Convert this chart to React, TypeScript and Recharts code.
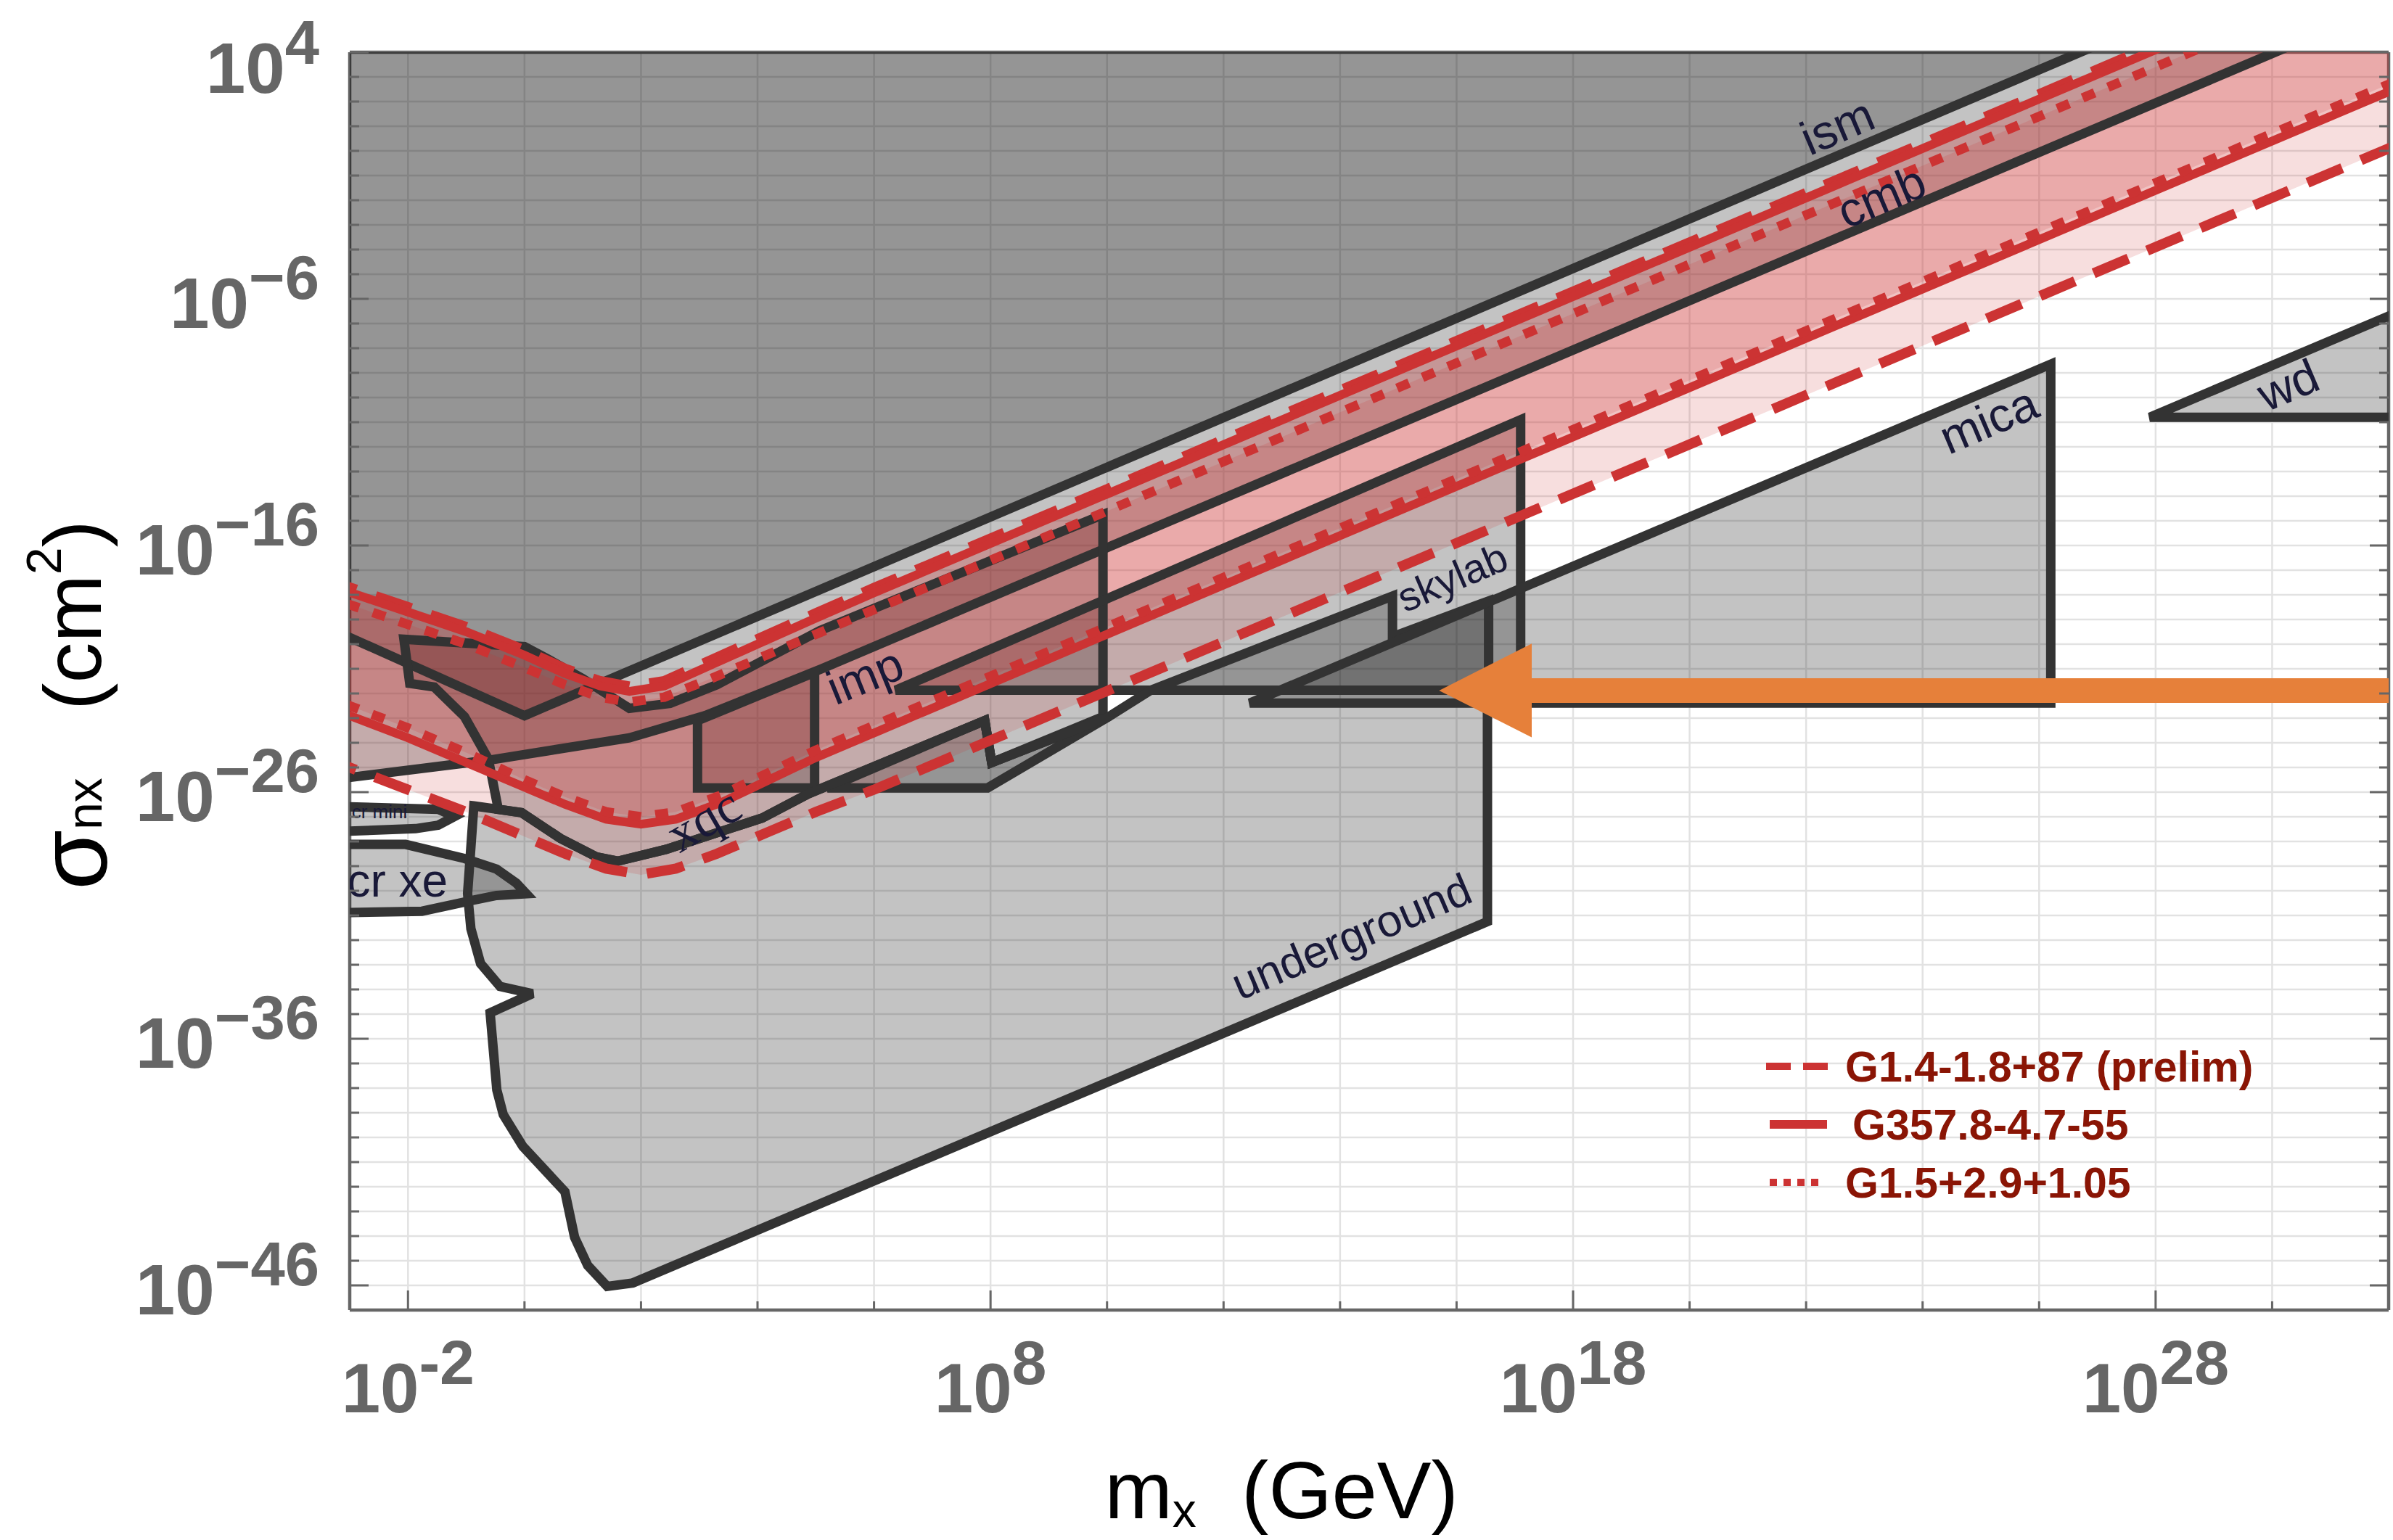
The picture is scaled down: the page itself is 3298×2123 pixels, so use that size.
import React from 'react'
import {
  ComposedChart,
  Scatter,
  XAxis,
  YAxis,
  CartesianGrid,
  Legend,
  Label,
  Polygon,
  Curve,
} from 'recharts'

type Pt = [number, number]

// axes are log10(m / GeV) and log10(sigma / cm^2)
const X_DOMAIN: [number, number] = [-3, 32]
const Y_DOMAIN: [number, number] = [-47, 4]
const X_TICKS = [-2, 0, 2, 4, 6, 8, 10, 12, 14, 16, 18, 20, 22, 24, 26, 28, 30, 32]
const X_MAJOR = [-2, 8, 18, 28]
const Y_TICKS = [
  4, 3, 2, 1, 0, -1, -2, -3, -4, -5, -6, -7, -8, -9, -10, -11, -12, -13, -14, -15, -16, -17,
  -18, -19, -20, -21, -22, -23, -24, -25, -26, -27, -28, -29, -30, -31, -32, -33, -34, -35,
  -36, -37, -38, -39, -40, -41, -42, -43, -44, -45, -46,
]
const Y_MAJOR = [4, -6, -16, -26, -36, -46]

// excluded regions (log10 m, log10 sigma)
const ISM: Pt[] = [[-3.5, 5], [-3.5, -19.2], [0, -22.9], [27.7, 5]]
const CMB: Pt[] = [[-3.5, 5], [-3.5, -25.55], [-0.6, -24.7], [1.8, -23.8], [3.1, -22.9], [5.1, -21.0], [31.05, 5]]
const XQC: Pt[] = [
  [-2.07, -19.8], [0, -20.1], [0.4, -20.6], [1.0, -21.4], [1.8, -22.6], [2.5, -22.4], [3.3, -21.65],
  [5.07, -19.45], [9.93, -14.75], [9.93, -22.94], [8.02, -24.8], [7.9, -23.1], [4.87, -26.07],
  [4.08, -27.05], [2.43, -28.32], [1.6, -28.8], [1.24, -28.63], [0.62, -27.88], [-0.05, -26.83],
  [-0.45, -26.7], [-0.62, -24.66], [-1.03, -22.94], [-1.55, -21.74], [-1.97, -21.59],
]
const IMP_LEFT: Pt[] = [[2.97, -23.1], [4.98, -21.15], [4.98, -25.83], [2.97, -25.83]]
const IMP_LOW: Pt[] = [[5.2, -25.83], [7.95, -25.83], [10.03, -22.94], [8.02, -24.8], [7.9, -23.1]]
const IMP: Pt[] = [[6.37, -21.87], [17.1, -10.9], [17.1, -21.87]]
const SKYLAB: Pt[] = [[10.75, -21.87], [14.9, -18.05], [14.9, -19.7], [16.55, -18.25], [16.55, -21.87]]
const MICA: Pt[] = [[12.45, -22.39], [26.2, -8.65], [26.2, -22.39]]
const WD: Pt[] = [[27.9, -10.8], [32.6, -6.1], [32.6, -10.8]]
const UNDERGROUND: Pt[] = [
  [-0.87, -26.56], [-0.05, -26.83], [0.62, -27.88], [1.24, -28.63], [1.6, -28.8], [2.43, -28.32],
  [4.08, -27.05], [4.87, -26.07], [7.9, -23.1], [8.02, -24.8], [10.03, -22.94], [10.75, -21.87],
  [16.53, -21.87], [16.53, -31.25], [1.86, -45.9], [1.42, -46.04], [1.085, -45.19], [0.86, -44.05],
  [0.694, -42.2], [-0.03, -40.36], [-0.364, -39.08], [-0.475, -38.08], [-0.59, -34.95],
  [0.137, -34.17], [-0.42, -33.88], [-0.754, -32.95], [-0.92, -31.54], [-0.977, -30.11],
]
const CR_XE: Pt[] = [
  [-3.5, -28.12], [-2.04, -28.12], [-1.03, -28.69], [-0.48, -29.12], [-0.14, -29.69], [0.03, -30.12],
  [-0.48, -30.19], [-0.92, -30.4], [-1.76, -30.83], [-3.5, -30.9],
]
const CR_MINI: Pt[] = [[-3.5, -26.56], [-1.48, -26.7], [-1.2, -26.99], [-1.48, -27.34], [-1.87, -27.48], [-3.5, -27.63]]

// limit bands, upper and lower edges
const DASH_UP: Pt[] = [
  [-3.5, -17.3], [-3, -17.7], [-2, -18.5], [-1, -19.3], [0, -20.25], [0.7, -21.0], [1.3, -21.5],
  [1.8, -21.72], [2.4, -21.5], [3.2, -20.65], [4, -19.8], [5, -18.75], [6, -17.72], [28.7, 5],
]
const SOLID_UP: Pt[] = [
  [-3.5, -17.5], [-3, -17.9], [-2, -18.7], [-1, -19.5], [0, -20.45], [0.7, -21.2], [1.3, -21.7],
  [1.8, -21.92], [2.4, -21.7], [3.2, -20.85], [4, -20.0], [5, -18.95], [6, -17.92], [28.9, 5],
]
const DOT_UP: Pt[] = [
  [-3.5, -18.0], [-3, -18.4], [-2, -19.2], [-1, -20.0], [0, -20.95], [0.7, -21.65], [1.3, -22.15],
  [1.8, -22.35], [2.4, -22.15], [3.2, -21.4], [4, -20.6], [5, -19.6], [6, -18.6], [29.6, 5],
]
const DOT_LOW: Pt[] = [
  [-3.5, -22.05], [-3, -22.5], [-2, -23.4], [-1, -24.4], [0, -25.5], [0.7, -26.2], [1.4, -26.8],
  [2.0, -27.0], [2.6, -26.8], [3.4, -26.1], [4.2, -25.2], [5, -24.3], [6, -23.3], [33, 3.7],
]
const SOLID_LOW: Pt[] = [
  [-3.5, -22.45], [-3, -22.9], [-2, -23.8], [-1, -24.8], [0, -25.8], [0.7, -26.5], [1.4, -27.1],
  [2.0, -27.3], [2.6, -27.1], [3.4, -26.4], [4.2, -25.5], [5, -24.6], [6, -23.6], [33, 3.4],
]
const DASH_LOW: Pt[] = [
  [-3.5, -24.55], [-3, -25.0], [-2, -25.9], [-1, -26.8], [0, -27.8], [0.7, -28.5], [1.4, -29.1],
  [2.0, -29.35], [2.6, -29.1], [3.3, -28.5], [4.2, -27.6], [5, -26.8], [6, -25.9], [33, 1.1],
]

const ARROW: Pt[] = [
  [33, -21.38], [17.29, -21.38], [17.29, -19.98], [15.7, -21.88], [17.29, -23.78], [17.29, -22.38], [33, -22.38],
]

const REGION_LABELS = [
  { text: 'ism', x: 22.56, y: 0.85, angle: -23, size: 66 },
  { text: 'cmb', x: 23.32, y: -1.99, angle: -23, size: 66 },
  { text: 'mica', x: 25.16, y: -11.06, angle: -23, size: 66 },
  { text: 'wd', x: 30.3, y: -9.64, angle: -23, size: 66 },
  { text: 'skylab', x: 15.95, y: -17.42, angle: -23, size: 56 },
  { text: 'imp', x: 5.87, y: -21.43, angle: -22, size: 66 },
  { text: 'xqc', x: 3.12, y: -27.3, angle: -30, size: 72, serif: true },
  { text: 'underground', x: 14.22, y: -31.99, angle: -23, size: 62 },
  { text: 'cr xe', x: -2.18, y: -29.75, angle: 0, size: 64 },
  { text: 'cr mini', x: -2.49, y: -26.85, angle: 0, size: 26 },
]

const LEGEND_ITEMS = [
  { name: 'G1.4-1.8+87 (prelim)', kind: 'dashed' },
  { name: 'G357.8-4.7-55', kind: 'solid' },
  { name: 'G1.5+2.9+1.05', kind: 'dotted' },
]

const FRAME = '#666666'
const EDGE = '#333333'
const RED = '#cc3333'
const INK = '#191938'
const GRAY_ALPHA = 0.235
const RED_ALPHA = 0.16

const LINE_STYLE: Record<string, { width: number; dash?: string }> = {
  dashed: { width: 14, dash: '52 28' },
  solid: { width: 12 },
  dotted: { width: 13, dash: '18 20' },
}

const toData = (pts: Pt[]) => pts.map(([x, y]) => ({ x, y }))
const band = (up: Pt[], low: Pt[]): Pt[] => [...up, [33, 5], ...low.slice().reverse()]
const NoDot = () => <g />

const fillItem = (key: string, pts: Pt[], color: string, alpha: number) => (
  <Scatter
    key={key}
    data={toData(pts)}
    shape={NoDot}
    legendType="none"
    isAnimationActive={false}
    line={(p: any) => <Polygon points={p.points} fill={color} fillOpacity={alpha} stroke="none" />}
  />
)

const edgeItem = (key: string, pts: Pt[]) => (
  <Scatter
    key={key}
    data={toData(pts)}
    shape={NoDot}
    legendType="none"
    isAnimationActive={false}
    line={(p: any) => (
      <Polygon points={p.points} fill="none" stroke={EDGE} strokeWidth={13} strokeLinejoin="miter" strokeMiterlimit={3} />
    )}
  />
)

const redItem = (key: string, pts: Pt[], kind: string) => (
  <Scatter
    key={key}
    data={toData(pts)}
    shape={NoDot}
    legendType="none"
    isAnimationActive={false}
    line={(p: any) => (
      <Curve
        type="linear"
        points={p.points}
        fill="none"
        stroke={RED}
        strokeWidth={LINE_STYLE[kind].width}
        strokeDasharray={LINE_STYLE[kind].dash}
      />
    )}
  />
)

const TICK_PAD = 20

const YTickLeft = ({ x, y, payload }: any) => {
  const v = payload.value
  const major = Y_MAJOR.includes(v)
  const ax = x + TICK_PAD
  // the top label sits a little lower so its exponent stays inside the picture
  const shift = v === Y_DOMAIN[1] ? 16 : 0
  return (
    <g>
      <line x1={ax} x2={ax + (major ? 26 : 13)} y1={y} y2={y} stroke={FRAME} strokeWidth={3} />
      {major && (
        <text x={ax - 42} y={y + 40 + shift} textAnchor="end" fill={FRAME} fontFamily="Liberation Sans" fontWeight="bold" fontSize={98}>
          10
          <tspan dy={-40} fontSize={85}>{v < 0 ? `\u2212${-v}` : `${v}`}</tspan>
        </text>
      )}
    </g>
  )
}

const YTickRight = ({ x, y, payload }: any) => {
  const major = Y_MAJOR.includes(payload.value)
  const ax = x - TICK_PAD
  return <line x1={ax} x2={ax - (major ? 26 : 13)} y1={y} y2={y} stroke={FRAME} strokeWidth={3} />
}

const XTickBottom = ({ x, y, payload }: any) => {
  const v = payload.value
  const major = X_MAJOR.includes(v)
  const ay = y - TICK_PAD
  return (
    <g>
      <line x1={x} x2={x} y1={ay} y2={ay - (major ? 27 : 12)} stroke={FRAME} strokeWidth={3} />
      {major && (
        <text x={x} y={ay + 141} textAnchor="middle" fill={FRAME} fontFamily="Liberation Sans" fontWeight="bold" fontSize={96}>
          10
          <tspan dy={-39} fontSize={86}>{`${v}`}</tspan>
        </text>
      )}
    </g>
  )
}

const XTickTop = ({ x, y, payload }: any) => {
  const major = X_MAJOR.includes(payload.value)
  const ay = y + TICK_PAD
  return <line x1={x} x2={x} y1={ay} y2={ay + (major ? 27 : 12)} stroke={FRAME} strokeWidth={3} />
}

const XTitle = ({ viewBox }: any) => (
  <text
    x={viewBox.x + viewBox.width * 0.457}
    y={viewBox.y + 287}
    textAnchor="middle"
    fontFamily="Liberation Sans"
    fontSize={112}
    fill="#000"
  >
    m<tspan fontSize={66} dy={12}>x</tspan>
    <tspan dy={-12}>{'\u00a0\u00a0(GeV)'}</tspan>
  </text>
)

const YTitle = ({ viewBox }: any) => {
  const cx = viewBox.x + 100
  const cy = viewBox.y + 900
  return (
    <text
      transform={`translate(${cx},${cy}) rotate(-90)`}
      textAnchor="middle"
      dominantBaseline="central"
      fontFamily="Liberation Sans"
      fontSize={112}
      fill="#000"
    >
      <tspan fontSize={134}>σ</tspan>
      <tspan fontSize={68} dy={16}>nx</tspan>
      <tspan dy={-16}>{'\u00a0\u00a0\u00a0(cm'}</tspan>
      <tspan fontSize={68} dy={-40}>2</tspan>
      <tspan dy={40}>)</tspan>
    </text>
  )
}

const RegionLabel = ({ cx, cy, payload }: any) => (
  <text
    x={cx}
    y={cy}
    transform={`rotate(${payload.angle} ${cx} ${cy})`}
    textAnchor="middle"
    dominantBaseline="middle"
    fontSize={payload.size}
    fontFamily={payload.serif ? 'Liberation Serif' : 'Liberation Sans'}
    fill={INK}
  >
    {payload.text}
  </text>
)

const LegendBox = () => (
  <svg width={760} height={260}>
    {LEGEND_ITEMS.map((item, i) => {
      const cy = 50 + i * 80
      const tx = item.kind === 'solid' ? 133 : 123
      return (
        <g key={item.name}>
          {item.kind === 'dashed' && (
            <line x1={14} x2={103} y1={cy} y2={cy} stroke={RED} strokeWidth={10} strokeDasharray="34 17" />
          )}
          {item.kind === 'solid' && <line x1={19} x2={98} y1={cy} y2={cy} stroke={RED} strokeWidth={12} />}
          {item.kind === 'dotted' && (
            <line x1={19} x2={90} y1={cy} y2={cy} stroke={RED} strokeWidth={10} strokeDasharray="10 9" />
          )}
          <text x={tx} y={cy + 21} fill="#8a1505" fontFamily="Liberation Sans" fontWeight="bold" fontSize={59}>
            {item.name}
          </text>
        </g>
      )
    })}
  </svg>
)

const GRAY_REGIONS: [string, Pt[]][] = [
  ['ism', ISM],
  ['cmb', CMB],
  ['xqc', XQC],
  ['impLeft', IMP_LEFT],
  ['impLow', IMP_LOW],
  ['imp', IMP],
  ['skylab', SKYLAB],
  ['mica', MICA],
  ['wd', WD],
  ['underground', UNDERGROUND],
  ['crxe', CR_XE],
  ['crmini', CR_MINI],
]

export default function App() {
  return (
    <div>
      <style>{'body{margin:0;background:#fff}'}</style>
      <ComposedChart width={3298} height={2123} margin={{ top: 71, right: 0, bottom: 0, left: 0 }}>
        <CartesianGrid stroke="#e2e2e2" strokeWidth={2.5} />

        {GRAY_REGIONS.map(([k, pts]) => fillItem(`f-${k}`, pts, '#000', GRAY_ALPHA))}

        {fillItem('band-dash', band(DASH_UP, DASH_LOW), RED, RED_ALPHA)}
        {fillItem('band-solid', band(SOLID_UP, SOLID_LOW), RED, RED_ALPHA)}
        {fillItem('band-dot', band(DOT_UP, DOT_LOW), RED, RED_ALPHA)}

        {GRAY_REGIONS.map(([k, pts]) => edgeItem(`e-${k}`, pts))}

        {redItem('dash-up', DASH_UP, 'dashed')}
        {redItem('dash-low', DASH_LOW, 'dashed')}
        {redItem('solid-up', SOLID_UP, 'solid')}
        {redItem('solid-low', SOLID_LOW, 'solid')}
        {redItem('dot-up', DOT_UP, 'dotted')}
        {redItem('dot-low', DOT_LOW, 'dotted')}

        <Scatter data={REGION_LABELS} shape={RegionLabel} legendType="none" isAnimationActive={false} />

        {fillItem('arrow', ARROW, '#e6803a', 1)}

        <XAxis
          dataKey="x"
          type="number"
          domain={X_DOMAIN}
          allowDataOverflow
          ticks={X_TICKS}
          interval={0}
          tickSize={0}
          tickMargin={TICK_PAD}
          tick={XTickBottom}
          height={317}
          axisLine={{ stroke: FRAME, strokeWidth: 4.5 }}
          label={<Label content={XTitle} />}
        />
        <XAxis
          xAxisId="top"
          orientation="top"
          type="number"
          domain={X_DOMAIN}
          allowDataOverflow
          ticks={X_TICKS}
          interval={0}
          tickSize={0}
          tickMargin={TICK_PAD}
          tick={XTickTop}
          height={1}
          axisLine={{ stroke: FRAME, strokeWidth: 4.5 }}
        />
        <YAxis
          dataKey="y"
          type="number"
          domain={Y_DOMAIN}
          allowDataOverflow
          ticks={Y_TICKS}
          interval={0}
          tickSize={0}
          tickMargin={TICK_PAD}
          tick={YTickLeft}
          width={482}
          axisLine={{ stroke: FRAME, strokeWidth: 4.5 }}
          label={<Label content={YTitle} />}
        />
        <YAxis
          yAxisId="right"
          orientation="right"
          type="number"
          domain={Y_DOMAIN}
          allowDataOverflow
          ticks={Y_TICKS}
          interval={0}
          tickSize={0}
          tickMargin={TICK_PAD}
          tick={YTickRight}
          width={6}
          axisLine={{ stroke: FRAME, strokeWidth: 4.5 }}
        />
        <Legend
          content={LegendBox}
          layout="vertical"
          align="center"
          verticalAlign="middle"
          wrapperStyle={{ left: 2420, top: 1420, width: 760, height: 260 }}
        />
      </ComposedChart>
    </div>
  )
}
